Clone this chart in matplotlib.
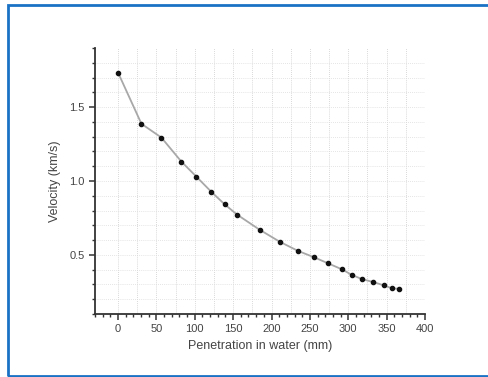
import numpy as np
import matplotlib
matplotlib.use("Agg")
import matplotlib.pyplot as plt
from matplotlib.patches import Rectangle
from matplotlib.ticker import MultipleLocator

# Penetration depth (mm) and velocity (km/s)
depth = [0, 30.5, 56.5, 82.6, 102, 121.7, 139, 155, 184.6, 210.7, 234.5, 255.4,
         273.6, 291.9, 304.5, 318.4, 332.2, 346.2, 357.5, 365.7]
velocity = [1.734, 1.387, 1.294, 1.131, 1.03, 0.926, 0.842, 0.773, 0.67, 0.589,
            0.527, 0.484, 0.443, 0.402, 0.365, 0.335, 0.317, 0.294, 0.273, 0.271]

x_grid = np.arange(0, 400, 25)
y_grid = np.arange(0.2, 1.9, 0.1)

plt.rcParams['font.family'] = ['Liberation Sans', 'DejaVu Sans']

fig = plt.figure(figsize=(4.88, 3.77), dpi=100)
ax = fig.add_axes([95/488, 63/377, 330/488, 266/377])

# light dotted grid
for gx in x_grid:
    ax.axvline(gx, color='#cccccc', lw=0.6, ls=(0, (1, 1.5)), zorder=0)
for gy in y_grid:
    ax.axhline(gy, color='#dcdcdc', lw=0.6, ls=(0, (1, 1.5)), zorder=0)

ax.plot(depth, velocity, color='#a8a8a8', lw=1.3, zorder=2)
ax.plot(depth, velocity, 'o', color='#111111', ms=3, zorder=3)

ax.set_xlim(-30, 400)
ax.set_ylim(0.1, 1.9)
ax.xaxis.set_major_locator(MultipleLocator(50))
ax.xaxis.set_minor_locator(MultipleLocator(10))
ax.yaxis.set_major_locator(MultipleLocator(0.5))
ax.yaxis.set_minor_locator(MultipleLocator(0.1))

for side in ['top', 'right']:
    ax.spines[side].set_visible(False)
for side in ['left', 'bottom']:
    ax.spines[side].set_color('#333333')
    ax.spines[side].set_linewidth(1.3)

ax.tick_params(which='major', direction='out', length=4, width=1.1, color='#333333',
               labelsize=8, labelcolor='#444444')
ax.tick_params(which='minor', direction='out', length=2.5, width=1, color='#333333')

ax.set_xlabel('Penetration in water (mm)', fontsize=9, color='#444444', labelpad=4)
ax.set_ylabel('Velocity (km/s)', fontsize=9, color='#444444', labelpad=6)

# blue frame around the figure (right edge runs off the image)
fig.patches.append(Rectangle((8/488, 1/377), 1.05, 371/377, transform=fig.transFigure,
                             fill=False, edgecolor='#1a72c4', lw=2, figure=fig))

fig.savefig('out.png', dpi=100)
